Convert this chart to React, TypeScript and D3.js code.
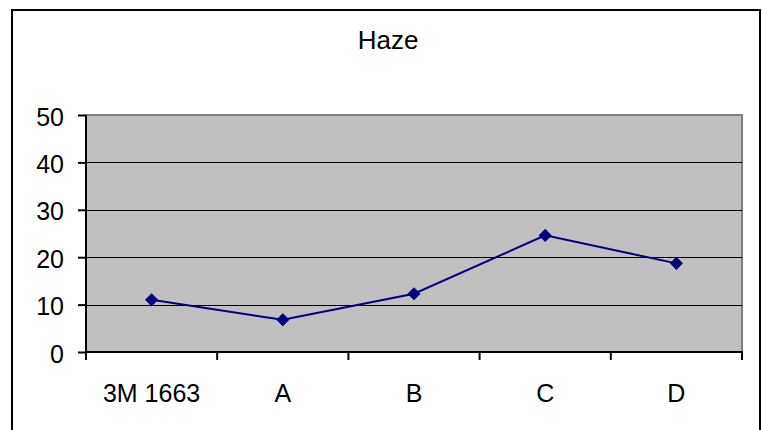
import React, { useEffect, useRef } from 'react';
import * as d3 from 'd3';

const categories = ['3M 1663', 'A', 'B', 'C', 'D'];
const haze = [11.0, 6.8, 12.3, 24.6, 18.7];
const yTicks = [0, 10, 20, 30, 40, 50];
const title = 'Haze';

const App = () => {
    const ref = useRef<SVGSVGElement>(null);

    useEffect(() => {
        const width = 762;
        const height = 430;
        const plot = { left: 86, right: 742, top: 115, bottom: 352 };
        const font = 'Liberation Sans, Arial, sans-serif';

        const svg = d3.select(ref.current);
        svg.selectAll('*').remove();

        svg.append('rect')
            .attr('width', width)
            .attr('height', height)
            .attr('fill', '#fff');

        // outer chart border
        svg.append('rect')
            .attr('x', 12)
            .attr('y', 10)
            .attr('width', 748)
            .attr('height', 440)
            .attr('fill', 'none')
            .attr('stroke', '#000')
            .attr('stroke-width', 2);

        svg.append('text')
            .text(title)
            .attr('x', 388)
            .attr('y', 49)
            .attr('text-anchor', 'middle')
            .attr('font-family', font)
            .attr('font-size', '26px');

        const x = d3.scaleBand()
            .domain(categories)
            .range([plot.left, plot.right]);

        const y = d3.scaleLinear()
            .domain([0, 50])
            .range([plot.bottom, plot.top]);

        // plot area
        svg.append('rect')
            .attr('x', plot.left)
            .attr('y', plot.top)
            .attr('width', plot.right - plot.left)
            .attr('height', plot.bottom - plot.top)
            .attr('fill', '#c0c0c0')
            .attr('stroke', '#808080')
            .attr('stroke-width', 2);

        svg.selectAll('.grid')
            .data(yTicks.filter(t => t > 0 && t < 50))
            .enter()
            .append('line')
            .attr('x1', plot.left)
            .attr('x2', plot.right)
            .attr('y1', d => Math.round(y(d)) + 0.5)
            .attr('y2', d => Math.round(y(d)) + 0.5)
            .attr('stroke', '#000')
            .attr('stroke-width', 1);

        // y axis
        const yAxis = svg.append('g')
            .attr('transform', 'translate(' + plot.left + ',0)')
            .call(d3.axisLeft(y).tickValues(yTicks).tickSize(8).tickPadding(14));
        yAxis.select('.domain').attr('stroke-width', 2).attr('d', 'M0,' + (plot.top) + 'V' + (plot.bottom + 1));
        yAxis.selectAll('.tick line').attr('stroke-width', 2);
        yAxis.selectAll('.tick text')
            .attr('font-family', font)
            .attr('font-size', '25px')
            .attr('fill', '#000')
            .attr('dy', '0.4em');

        // x axis
        const xAxis = svg.append('g')
            .attr('transform', 'translate(0,' + plot.bottom + ')');
        xAxis.append('line')
            .attr('x1', plot.left - 1)
            .attr('x2', plot.right + 1)
            .attr('stroke', '#000')
            .attr('stroke-width', 2);
        const bounds = categories.map(c => x(c) as number).concat([plot.right]);
        xAxis.selectAll('.xtick')
            .data(bounds)
            .enter()
            .append('line')
            .attr('x1', d => d)
            .attr('x2', d => d)
            .attr('y1', 0)
            .attr('y2', 8)
            .attr('stroke', '#000')
            .attr('stroke-width', 2);
        xAxis.selectAll('.xlabel')
            .data(categories)
            .enter()
            .append('text')
            .text(d => d)
            .attr('x', d => (x(d) as number) + x.bandwidth() / 2)
            .attr('y', 50)
            .attr('text-anchor', 'middle')
            .attr('font-family', font)
            .attr('font-size', '25px');

        const pts = categories.map((c, i) => [(x(c) as number) + x.bandwidth() / 2, y(haze[i])] as [number, number]);

        svg.append('path')
            .attr('d', d3.line()(pts))
            .attr('fill', 'none')
            .attr('stroke', '#000080')
            .attr('stroke-width', 2);

        svg.selectAll('.marker')
            .data(pts)
            .enter()
            .append('path')
            .attr('d', d3.symbol(d3.symbolDiamond2, 110)())
            .attr('transform', d => 'translate(' + d[0] + ',' + d[1] + ')')
            .attr('fill', '#000080');
    }, []);

    return (
        <svg ref={ref} width={762} height={430}
            style={{ position: 'absolute', left: 0, top: 0, display: 'block' }} />
    );
};

export default App;
